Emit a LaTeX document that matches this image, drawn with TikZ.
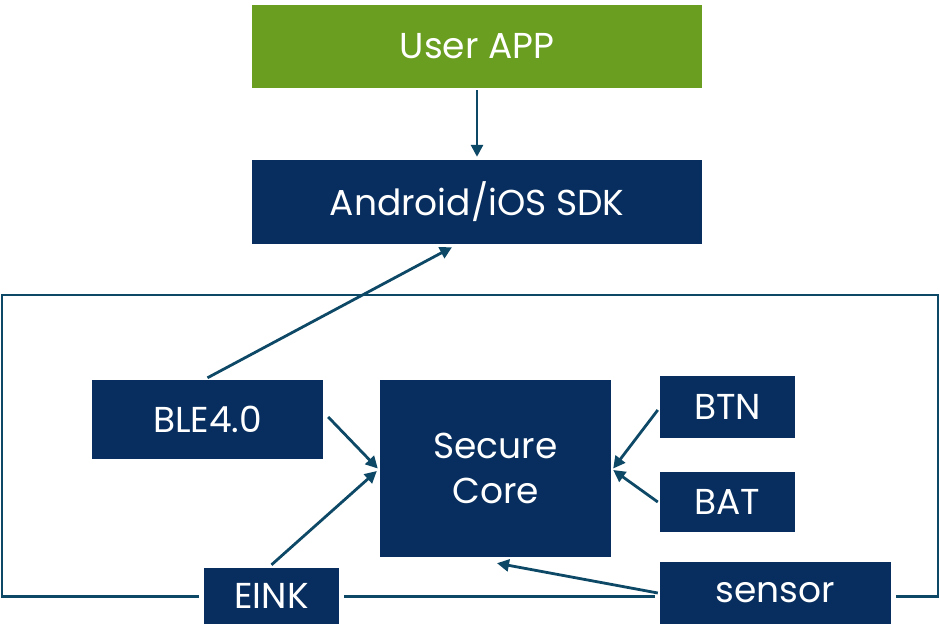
\documentclass[tikz,border=0pt]{standalone}
\usepackage{fontspec}
\setmainfont{Poppins}
\usetikzlibrary{arrows.meta,calc}
\definecolor{navy}{HTML}{072E5E}
\definecolor{appgreen}{HTML}{6A9E20}
\definecolor{linec}{HTML}{0D4866}
\begin{document}
\begin{tikzpicture}[x=1pt,y=-1pt,
  box/.style={fill=navy,text=white,inner sep=0pt,font=\fontsize{36}{40}\selectfont},
  conn/.style={draw=linec,line width=2.8pt,-{Triangle[length=12pt,width=12pt]}},
  frame/.style={draw=linec,line width=2.8pt}]
\useasboundingbox (0,0) rectangle (940,642);
\node[box,fill=appgreen,minimum width=450pt,minimum height=83pt] (app) at (477,46.5) {User APP};
\node[box,minimum width=450pt,minimum height=84pt] (sdk) at (477,202) {Android/iOS SDK};
\node[box,minimum width=231pt,minimum height=79pt] (ble) at (207.5,419.5) {BLE4.0};
\node[box,minimum width=231pt,minimum height=177pt,align=center] (core) at (495.5,468.5) {Secure\\[5pt]Core};
\node[box,minimum width=135pt,minimum height=62pt] (btn) at (727.5,407) {BTN};
\node[box,minimum width=135pt,minimum height=60pt] (bat) at (727.5,502) {BAT};
\node[box,minimum width=231pt,minimum height=62pt] (sensor) at (775.5,593) {sensor};
\node[box,minimum width=135pt,minimum height=56pt] (eink) at (271.5,596) {EINK};
% frame
\coordinate (fl) at (2,596.5);
\coordinate (ftl) at (2,295);
\coordinate (ftr) at (938,295);
\coordinate (fr) at (938,596.5);
\draw[frame] ([xshift=-5pt]eink.west |- fl) -- (fl) -- (ftl) -- (ftr) -- (fr) -- ([xshift=5pt]sensor.east |- fr);
\draw[frame] ([xshift=5pt]eink.east |- fl) -- ([xshift=-5pt]sensor.west |- fl);
% connectors
\draw[conn] ([yshift=-2pt]app.south) -- ([yshift=3pt]sdk.north);
\draw[conn] ([yshift=2pt]ble.north) -- ([xshift=-25pt,yshift=-3pt]sdk.south);
\draw[conn] ([xshift=5pt,yshift=2.5pt]ble.east) -- ([xshift=-2pt]core.west);
\draw[conn] ([yshift=3pt]eink.north) -- ([xshift=-3pt,yshift=-2.5pt]core.west);
\draw[conn] ([xshift=-2pt,yshift=-3pt]btn.west) -- ([xshift=2pt]core.east);
\draw[conn] ([xshift=-2pt]bat.west) -- ([xshift=2pt,yshift=-1.5pt]core.east);
\draw[conn] ([xshift=-2pt]sensor.west) -- ([xshift=1.5pt,yshift=-6pt]core.south);
\end{tikzpicture}
\end{document}
